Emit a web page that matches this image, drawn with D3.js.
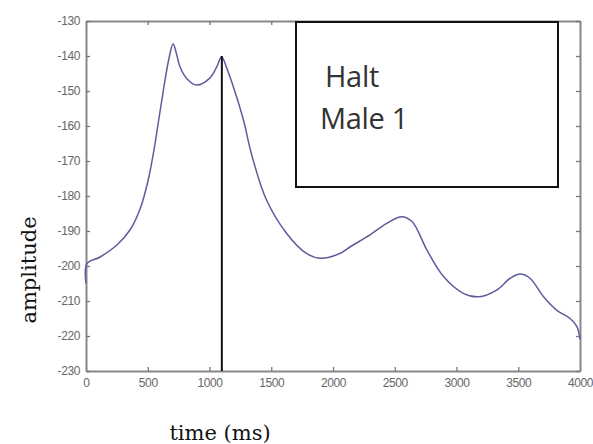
<!DOCTYPE html>
<html>
<head>
<meta charset="utf-8">
<script src="https://cdn.jsdelivr.net/npm/d3@7"></script>
<style>
  body { margin: 0; background: #fff; }
  svg { display: block; }
  .tick text { font-family: "Liberation Sans", Arial, sans-serif; font-size: 12px; fill: #666; letter-spacing: -0.4px; }
  .tick line { stroke: #777; stroke-width: 1.3; }
  .domain { stroke: #888; stroke-width: 2; }
</style>
</head>
<body>
<svg id="chart"></svg>
<script>
// time (ms) vs amplitude
var timeMs = [0, 8, 110, 250, 360, 440, 500, 545, 590, 630, 670, 705, 730, 760, 815, 895, 1000, 1060, 1098, 1140, 1195, 1275, 1340, 1460, 1625, 1785, 1895, 2050, 2140, 2300, 2435, 2555, 2640, 2760, 2895, 3055, 3180, 3325, 3435, 3515, 3595, 3705, 3810, 3920, 3975, 4000];
var amplitude = [-205, -199.3, -197.5, -194, -189.5, -183.5, -176, -168, -158, -149, -141, -136.5, -139, -143, -146.4, -148.3, -146.4, -143, -140.2, -143.5, -149, -158.3, -168, -181, -190.7, -196.4, -197.8, -196.5, -194.5, -191.1, -187.8, -185.9, -187.3, -195.4, -203, -207.8, -208.8, -206.9, -203.5, -202.3, -203.5, -208.8, -212.6, -215, -217.3, -221];

var xTicks = [0, 500, 1000, 1500, 2000, 2500, 3000, 3500, 4000];
var yTicks = [-230, -220, -210, -200, -190, -180, -170, -160, -150, -140, -130];

// vertical marker
var markerTime = 1100;
var markerTop = -140;

var legendLines = ["Halt", "Male 1"];

var width = 593, height = 444;
var svg = d3.select("#chart").attr("width", width).attr("height", height);

var x = d3.scaleLinear().domain([0, 4000]).range([86, 580]);
var y = d3.scaleLinear().domain([-230, -130]).range([371, 21]);

var plain = function (d) { return String(d); };

// box axes (matlab style, ticks pointing inward)
svg.append("g").attr("transform", "translate(0,371)")
  .call(d3.axisBottom(x).tickValues(xTicks).tickFormat(plain).tickSizeInner(-4).tickSizeOuter(0).tickPadding(7));
svg.append("g").attr("transform", "translate(0,21)")
  .call(d3.axisTop(x).tickValues(xTicks).tickSizeInner(-4).tickSizeOuter(0).tickFormat(""));
svg.append("g").attr("transform", "translate(86,0)")
  .call(d3.axisLeft(y).tickValues(yTicks).tickFormat(plain).tickSizeInner(-4).tickSizeOuter(0).tickPadding(6));
svg.append("g").attr("transform", "translate(580,0)")
  .call(d3.axisRight(y).tickValues(yTicks).tickSizeInner(-4).tickSizeOuter(0).tickFormat(""));

var pts = timeMs.map(function (t, i) { return [t, amplitude[i]]; });
var line = d3.line()
  .x(function (d) { return x(d[0]); })
  .y(function (d) { return y(d[1]); })
  .curve(d3.curveCatmullRom.alpha(0.5));

svg.append("path").datum(pts)
  .attr("d", line)
  .attr("fill", "none")
  .attr("stroke", "#5c5c9c")
  .attr("stroke-width", 1.5);

svg.append("line")
  .attr("x1", x(markerTime)).attr("x2", x(markerTime))
  .attr("y1", y(markerTop)).attr("y2", y(-230))
  .attr("stroke", "#111").attr("stroke-width", 2);

// annotation box
svg.append("rect")
  .attr("x", 296).attr("y", 22).attr("width", 262).attr("height", 165)
  .attr("fill", "#fff").attr("stroke", "#111").attr("stroke-width", 2);

svg.selectAll(".lbl").data(legendLines).enter().append("text")
  .attr("class", "lbl")
  .attr("x", function (d, i) { return i == 0 ? 325 : 320; })
  .attr("y", function (d, i) { return 87 + i * 42; })
  .attr("font-family", "Open Sans, sans-serif")
  .attr("font-size", 29)
  .attr("fill", "#333")
  .attr("letter-spacing", -0.3)
  .text(function (d) { return d; });

svg.append("text")
  .attr("x", 220).attr("y", 440)
  .attr("text-anchor", "middle")
  .attr("font-family", "DejaVu Serif, serif")
  .attr("font-size", 21)
  .attr("fill", "#111")
  .text("time (ms)");

svg.append("text")
  .attr("transform", "translate(36,270) rotate(-90)")
  .attr("text-anchor", "middle")
  .attr("font-family", "DejaVu Serif, serif")
  .attr("font-size", 21)
  .attr("fill", "#111")
  .text("amplitude");
</script>
</body>
</html>
